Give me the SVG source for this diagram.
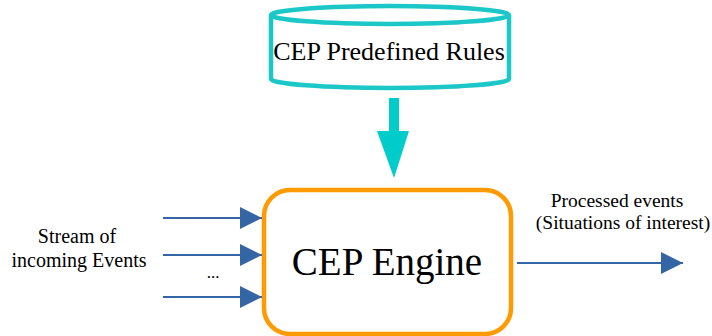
<svg xmlns="http://www.w3.org/2000/svg" width="712" height="336" viewBox="0 0 712 336">
<style>
.t{font-family:"Liberation Serif","Times New Roman",serif;fill:#000}
.in{stroke:#3465a4;stroke-width:2;fill:none}
.cyl{stroke:#1cc7c7;stroke-width:4.5;fill:#fff}
</style>
<defs>
<marker id="ah" markerUnits="userSpaceOnUse" markerWidth="24" markerHeight="22" refX="22" refY="11" orient="auto">
<path d="M0,0 L22,11 L0,22 Z" fill="#3465a4"/>
</marker>
</defs>
<rect width="712" height="336" fill="#fff"/>
<g id="rules">
<path class="cyl" d="M271,15 L271,79 A119,9 0 0 0 509,79 L509,15"/>
<ellipse class="cyl" cx="390" cy="15" rx="119" ry="9"/>
<text class="t" x="389" y="60" font-size="26" text-anchor="middle">CEP Predefined Rules</text>
</g>
<g id="engine">
<rect x="264" y="190" width="247" height="144" rx="26" fill="#fff" stroke="#ff9a00" stroke-width="4.5"/>
<text class="t" x="387" y="275" font-size="39" text-anchor="middle">CEP Engine</text>
</g>
<g id="input-label">
<text class="t" x="77" y="243" font-size="20" text-anchor="middle">Stream of</text>
<text class="t" x="79" y="267" font-size="20" text-anchor="middle">incoming Events</text>
<text class="t" x="213" y="278" font-size="17" text-anchor="middle">...</text>
</g>
<g id="output-label">
<text class="t" x="617" y="207" font-size="19.5" text-anchor="middle">Processed events</text>
<text class="t" x="623" y="229" font-size="19.5" text-anchor="middle">(Situations of interest)</text>
</g>
<g id="connectors">
<path d="M389,98 H399 V131 H409 L394,178 L377,131 H389 Z" fill="#00cccc"/>
<line class="in" x1="163" y1="218" x2="262" y2="218" marker-end="url(#ah)"/>
<line class="in" x1="163" y1="255" x2="262" y2="255" marker-end="url(#ah)"/>
<line class="in" x1="163" y1="297" x2="262" y2="297" marker-end="url(#ah)"/>
<line class="in" x1="517" y1="263" x2="683" y2="263" marker-end="url(#ah)"/>
</g>
</svg>
